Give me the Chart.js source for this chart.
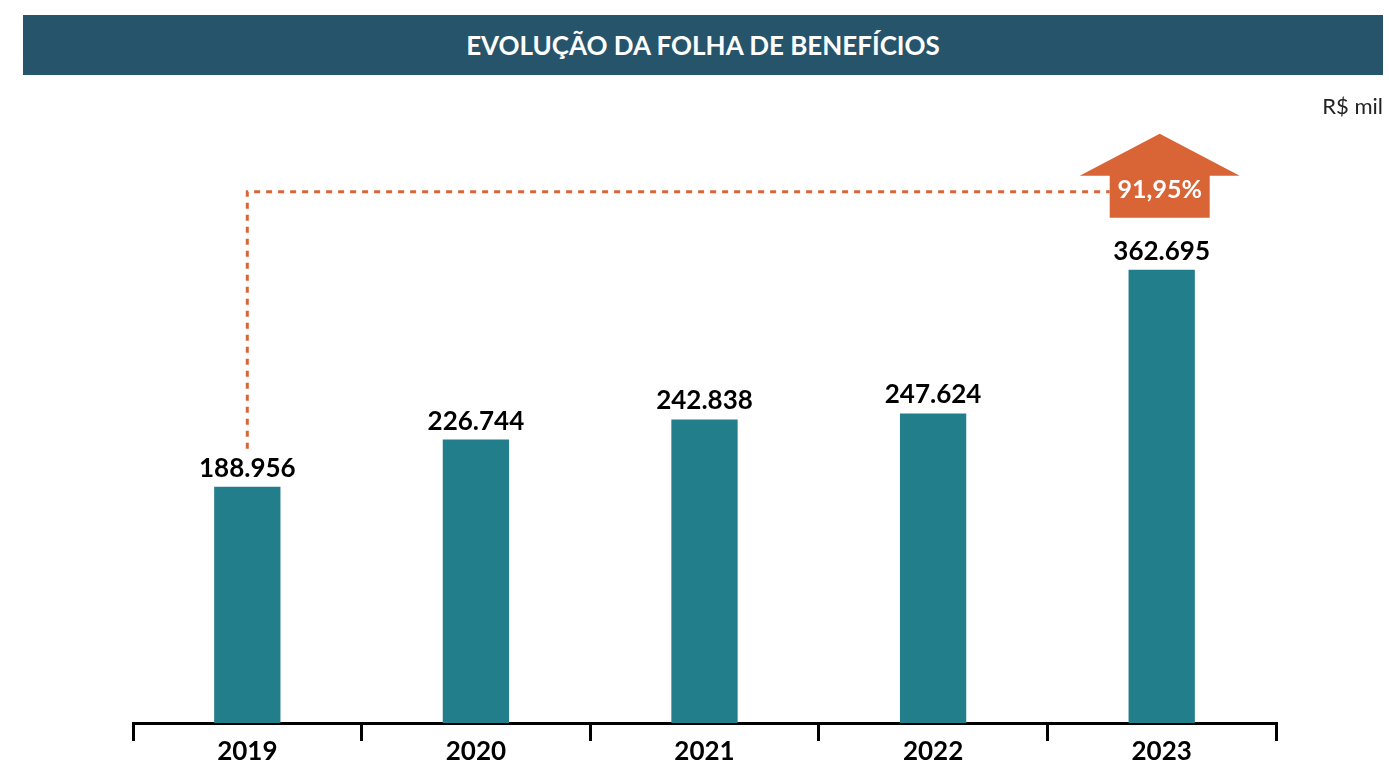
<!DOCTYPE html>
<html>
<head>
<meta charset="utf-8">
<script src="https://cdn.jsdelivr.net/npm/chart.js@4"></script>
<style>
    body { margin: 0; background: #ffffff; font-family: Lato, "Open Sans", sans-serif; }
    #wrap { position: relative; width: 1389px; height: 765px; overflow: hidden; }
    #title {
        position: absolute; left: 23px; top: 15px; width: 1360px; height: 60px;
        background: #26546a; color: #ffffff; font-weight: bold; font-size: 26px;
        line-height: 60px; text-align: center;
    }
    #unit { position: absolute; right: 6px; top: 92px; font-size: 22px; color: #222222; }
    #chart { position: absolute; left: 0; top: 0; }
</style>
</head>
<body>
<div id="wrap">
    <canvas id="chart" width="1389" height="765"></canvas>
    <div id="title">EVOLUÇÃO DA FOLHA DE BENEFÍCIOS</div>
    <div id="unit">R$ mil</div>
</div>
<script>
let years = ["2019", "2020", "2021", "2022", "2023"];
let folha = [188956, 226744, 242838, 247624, 362695];

let barColor = "#237e8c";
let orange = "#d96536";

function fmt(v){
    return String(v).replace(/\B(?=(\d{3})+(?!\d))/g, ".");
}

// valores acima das barras
let valueLabels = {
    id: "valueLabels",
    afterDatasetsDraw(chart){
        let ctx = chart.ctx;
        let meta = chart.getDatasetMeta(0);
        ctx.save();
        ctx.font = "bold 26px Lato";
        ctx.fillStyle = "#000000";
        ctx.textAlign = "center";
        ctx.textBaseline = "alphabetic";
        meta.data.forEach((bar, i) => {
            ctx.fillText(fmt(folha[i]), bar.x, bar.y - 10);
        });
        ctx.restore();
    }
};

// seta de crescimento e linha tracejada
let growthArrow = {
    id: "growthArrow",
    afterDatasetsDraw(chart){
        let ctx = chart.ctx;
        let meta = chart.getDatasetMeta(0);
        let first = meta.data[0];
        let last = meta.data[meta.data.length - 1];
        let cx = last.x - 2;
        let top = last.y;

        let stemL = cx - 50, stemR = cx + 50;
        let stemB = top - 52, wingY = top - 94, apex = top - 136;
        let lineY = top - 78;

        ctx.save();
        ctx.strokeStyle = orange;
        ctx.lineWidth = 3;
        ctx.setLineDash([6, 6]);
        ctx.beginPath();
        ctx.moveTo(first.x, first.y - 38);
        ctx.lineTo(first.x, lineY);
        ctx.lineTo(stemL, lineY);
        ctx.stroke();
        ctx.setLineDash([]);

        ctx.fillStyle = orange;
        ctx.beginPath();
        ctx.moveTo(cx, apex);
        ctx.lineTo(cx + 80, wingY);
        ctx.lineTo(stemR, wingY);
        ctx.lineTo(stemR, stemB);
        ctx.lineTo(stemL, stemB);
        ctx.lineTo(stemL, wingY);
        ctx.lineTo(cx - 80, wingY);
        ctx.closePath();
        ctx.fill();

        let pct = (folha[folha.length - 1] / folha[0] - 1) * 100;
        ctx.fillStyle = "#ffffff";
        ctx.font = "bold 25px Lato";
        ctx.textAlign = "center";
        ctx.textBaseline = "alphabetic";
        ctx.fillText(pct.toFixed(2).replace(".", ",") + "%", cx, stemB - 20);
        ctx.restore();
    }
};

let ctx = document.getElementById("chart").getContext("2d");

let chart = new Chart(ctx, {
    type: "bar",
    data: {
        labels: years,
        datasets: [{
            data: folha,
            backgroundColor: barColor,
            categoryPercentage: 1,
            barPercentage: 0.29
        }]
    },
    options: {
        responsive: false,
        animation: false,
        layout: {
            padding: { left: 133, right: 113, top: 98, bottom: 2 }
        },
        plugins: {
            legend: { display: false },
            tooltip: { enabled: false }
        },
        scales: {
            x: {
                border: { display: true, color: "#000000", width: 3 },
                grid: {
                    offset: true,
                    drawOnChartArea: false,
                    drawTicks: true,
                    tickLength: 18,
                    color: "#000000",
                    lineWidth: 3
                },
                ticks: {
                    color: "#000000",
                    padding: -2,
                    font: { family: "Lato", size: 26, weight: "bold", lineHeight: 1 }
                }
            },
            y: {
                display: false,
                min: 0,
                max: 500000
            }
        }
    },
    plugins: [valueLabels, growthArrow]
});
</script>
</body>
</html>
